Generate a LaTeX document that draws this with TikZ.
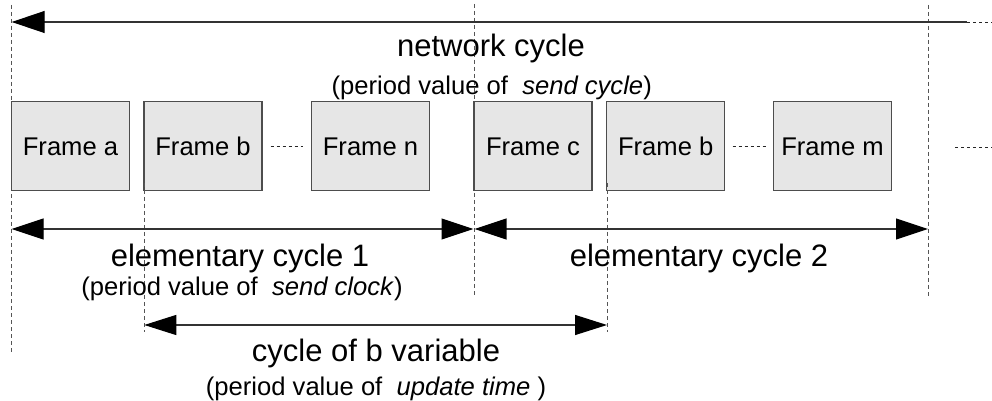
\documentclass[tikz,border=0pt]{standalone}
\usepackage{fontspec}
\setmainfont{Liberation Sans}
\usetikzlibrary{arrows.meta}
\definecolor{framefill}{HTML}{E6E6E6}
\definecolor{framedraw}{HTML}{4D4D4D}
\definecolor{vgray}{HTML}{555555}
\begin{document}
\begin{tikzpicture}[x=0.5pt,y=-0.5pt,
  framebox/.style={draw=framedraw, fill=framefill, line width=0.6pt, minimum width=59pt, minimum height=44.5pt, inner sep=0pt, font=\fontsize{12.8}{15}\selectfont},
  vline/.style={draw=vgray, line width=0.5pt, dash pattern=on 2pt off 1.5pt},
  dotline/.style={draw=black!85, line width=0.45pt, dash pattern=on 1.5pt off 1.5pt},
  dimline/.style={draw=black!80, line width=0.6pt},
  bigtip/.style={-{Triangle[length=16.5pt,width=11pt,black]}},
  dimtips/.style={{Triangle[length=16pt,width=10.5pt,black]}-{Triangle[length=16pt,width=10.5pt,black]}},
  btips/.style={{Triangle[length=16pt,width=10pt,black]}-{Triangle[length=16pt,width=10pt,black]}},
  bigtext/.style={anchor=base, inner sep=0pt, font=\fontsize{15.5}{18}\selectfont},
  smalltext/.style={anchor=base, inner sep=0pt, font=\fontsize{12.8}{15}\selectfont}]
\useasboundingbox (0,0) rectangle (992,401);

% vertical guide coordinates
\coordinate (l1t) at (11.7,5);   \coordinate (l1b) at (11.7,352);
\coordinate (l2t) at (144.3,183); \coordinate (l2b) at (144.3,332);
\coordinate (l3t) at (474,4);    \coordinate (l3b) at (474,297);
\coordinate (l4t) at (607.5,183); \coordinate (l4b) at (607.5,332);
\coordinate (l5t) at (928,5);    \coordinate (l5b) at (928,298);

\draw[vline] (l1t) -- (l1b);
\draw[vline] (l3t) -- (l3b);
\draw[vline] (l5t) -- (l5b);

% frames
\node[framebox] (fa) at (70.5,146.4) {Frame a};
\node[framebox] (fb) at (203,146.4) {Frame b};
\node[framebox] (fn) at (370.5,146.4) {Frame n};
\node[framebox] (fc) at (533,146.4) {Frame c};
\node[framebox] (fb2) at (665.7,146.4) {Frame b};
\node[framebox] (fm) at (832.5,146.4) {Frame m};

\draw[vline] (l2t) -- (l2b);
\draw[vline] (l4t) -- (l4b);

% dotted connectors between frames
\draw[dotline, shorten <=4pt, shorten >=4pt] (fb) -- (fn);
\draw[dotline, shorten <=3.6pt, shorten >=3pt] (fb2) -- (fm);
\coordinate (mr1) at (955,147);
\coordinate (mr2) at (992,147);
\draw[dotline] (mr1) -- (mr2);

% network cycle arrow
\coordinate (nL) at (11.7,22);
\coordinate (nR) at (967,22);
\coordinate (nE) at (992,22);
\draw[dimline, bigtip] (nR) -- (nL);
\draw[dotline] (nR) -- (nE);

% elementary cycles
\coordinate (e1L) at (11.7,229);
\coordinate (e1R) at (473.5,229);
\coordinate (e2L) at (474.5,229);
\coordinate (e2R) at (928,229);
\draw[dimline, dimtips] (e1L) -- (e1R);
\draw[dimline, dimtips] (e2L) -- (e2R);

% b variable cycle
\coordinate (bL) at (144.3,325);
\coordinate (bR) at (607,325);
\draw[dimline, btips] (bL) -- (bR);

% labels
\node[bigtext] (tnet) at (491,57) {network cycle};
\node[smalltext] (snet) at (491.7,95) {(period value of\ \ \textit{send cycle})};
\node[bigtext] (te1) at (240,266.7) {elementary cycle 1};
\node[smalltext] (se1) at (242,295) {(period value of\ \ \textit{send clock})};
\node[bigtext] (te2) at (699,266.7) {elementary cycle 2};
\node[bigtext] (tb) at (376,361.7) {cycle of b variable};
\node[smalltext] (sb) at (376,395) {(period value of\ \ \textit{update time}\ )};
\end{tikzpicture}
\end{document}
